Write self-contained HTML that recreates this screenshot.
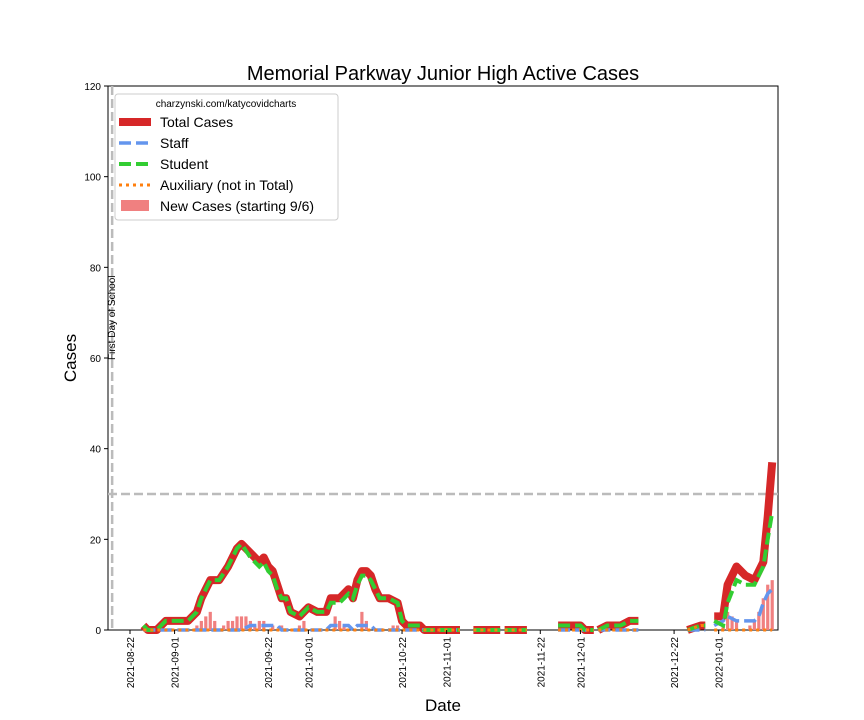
<!DOCTYPE html>
<html><head><meta charset="utf-8"><style>
body{margin:0;background:#fff;font-family:"Liberation Sans",sans-serif}
svg{display:block}
</style></head><body>
<svg id="chart" width="864" height="720" xmlns="http://www.w3.org/2000/svg">
<rect width="864" height="720" fill="#fff"/>
<text x="443" y="80" font-size="20" text-anchor="middle">Memorial Parkway Junior High Active Cases</text>
<text transform="translate(76,358) rotate(-90)" font-size="17" text-anchor="middle">Cases</text>
<text x="443" y="711" font-size="17" text-anchor="middle">Date</text>
<g id="plot"></g>
</svg>
<script>
const dayOffsets=[3,4,6,8,10,13,15,16,18,20,22,24,25,27,29,30,31,32,33,34,35,36,38,40,42,44,45,47,48,49,50,51,52,53,54,55,56,58,60,61,62,65,66,74,null,77,83,null,84,89,null,96,101,102,104,null,105,107,110,112,114,null,125,128,129,null,131,133,134,136,138,140,141,142,143,144];
const totalVals=[1,0,0,2,2,2,4,7,11,11,14,18,19,17,15,16,14,13,10,7,7,4,3,5,4,4,7,7,8,9,7,11,13,13,12,9,7,7,6,2,1,1,0,0,null,0,0,null,0,0,null,1,1,0,0,null,0,1,1,2,2,null,0,1,1,null,3,3,10,14,12,11,13,15,25,37];
const staffVals=[0,0,0,0,0,0,0,0,0,0,0,0,0,1,1,1,1,1,1,0,0,0,0,0,0,0,1,1,1,1,0,1,1,1,1,0,0,0,0,0,0,0,0,0,null,0,0,null,0,0,null,0,0,0,0,null,0,0,0,0,0,null,0,0,0,null,1,2,3,2,2,2,3,6,8,9];
const studentVals=[1,0,0,2,2,2,4,7,11,11,14,18,19,16,14,15,13,12,9,7,7,4,3,5,4,4,6,6,7,8,7,10,12,12,11,9,7,7,6,2,1,1,0,0,null,0,0,null,0,0,null,1,1,0,0,null,0,1,1,2,2,null,0,1,1,null,2,1,6,11,10,10,12,14,20,26];
const auxVals=[0,0,0,0,0,0,0,0,0,0,0,0,0,0,0,0,0,0,0,0,0,0,0,0,0,0,0,0,0,0,0,0,0,0,0,0,0,0,0,0,0,0,0,0,null,0,0,null,0,0,null,0,0,0,0,null,0,0,0,0,0,null,0,1,1,null,0,0,0,0,0,0,0,0,0,0];
const newDays=[15,16,17,18,19,21,22,23,24,25,26,27,28,29,30,32,34,38,39,46,47,48,52,53,59,60,126,133,134,135,136,139,140,141,142,143,144];
const newVals=[1,2,3,4,2,1,2,2,3,3,3,2,1,2,2,1,1,1,2,3,2,1,4,2,1,1,1,1,4,3,2,1,2,4,7,10,11];
const yTicks=[0,20,40,60,80,100,120];
const xTickLabels=["2021-08-22","2021-09-01","2021-09-22","2021-10-01","2021-10-22","2021-11-01","2021-11-22","2021-12-01","2021-12-22","2022-01-01"];
const schoolStartDay=-4, thresholdVal=30;

const L=108,R=778,T=86,B=630, dMin=-4.93, dMax=145.3;
const X=d=>L+(d-dMin)/(dMax-dMin)*(R-L);
const Y=v=>B-v/120*(B-T);
const dayOf=s=>Math.round((Date.parse(s)-Date.parse("2021-08-22"))/864e5);
const NS="http://www.w3.org/2000/svg";
const g=document.getElementById('plot');
function mk(t,a,p){const e=document.createElementNS(NS,t);for(const k in a)e.setAttribute(k,a[k]);(p||g).appendChild(e);return e;}
function pathD(vals){let d="",pen=false;dayOffsets.forEach((x,i)=>{const v=vals[i];if(x===null||v===null){pen=false;return;}d+=(pen?"L":"M")+X(x).toFixed(1)+","+Y(v).toFixed(1);pen=true;});return d;}

let e;
e=mk('rect',{x:L,y:T,width:R-L,height:B-T,fill:'none',stroke:'#000','stroke-width':1});


// bars
newDays.forEach((d,i)=>{const b=mk('rect',{x:X(d)-1.6,y:Y(newVals[i]),width:3.2,height:B-Y(newVals[i]),fill:'#f08080'});

});
// reference lines
e=mk('line',{x1:X(schoolStartDay),x2:X(schoolStartDay),y1:T,y2:B,stroke:'#bbb','stroke-width':2.5,'stroke-dasharray':'9,4'});


e=mk('line',{x1:L,x2:R,y1:Y(thresholdVal),y2:Y(thresholdVal),stroke:'#bbb','stroke-width':2.5,'stroke-dasharray':'9,4'});


e=mk('text',{transform:`translate(${X(schoolStartDay)+3},360) rotate(-90)`,'font-size':10});
e.textContent='First Day of School';


// series
e=mk('path',{d:pathD(totalVals),fill:'none',stroke:'#d62728','stroke-width':8,'stroke-linejoin':'round'});


e=mk('path',{d:pathD(staffVals),fill:'none',stroke:'#6495ed','stroke-width':3.5,'stroke-dasharray':'12,5'});


e=mk('path',{d:pathD(studentVals),fill:'none',stroke:'#32cd32','stroke-width':4,'stroke-dasharray':'12,5'});


e=mk('path',{d:pathD(auxVals),fill:'none',stroke:'#ff7f0e','stroke-width':3,'stroke-dasharray':'3,4'});


// y ticks
yTicks.forEach(v=>{mk('line',{x1:L-4,x2:L,y1:Y(v),y2:Y(v),stroke:'#000'});
const t=mk('text',{x:L-7,y:Y(v)+4,'font-size':10,'text-anchor':'end'});t.textContent=v;

});
// x ticks
xTickLabels.forEach(s=>{const x=X(dayOf(s));mk('line',{x1:x,x2:x,y1:B,y2:B+4,stroke:'#000'});
const t=mk('text',{transform:`translate(${x+4},${B+7}) rotate(-90)`,'font-size':10,'text-anchor':'end'});t.textContent=s;

});
// legend
const lg=mk('g',{});


mk('rect',{x:115,y:94,width:223,height:126,rx:3,fill:'#fff',stroke:'#ccc'},lg);
e=mk('text',{x:226,y:107,'font-size':10,'text-anchor':'middle'},lg);e.textContent='charzynski.com/katycovidcharts';
const items=[['Total Cases','#d62728',8,'none'],['Staff','#6495ed',3.5,'12,5'],['Student','#32cd32',4,'12,5'],['Auxiliary (not in Total)','#ff7f0e',3,'3,4'],['New Cases (starting 9/6)','#f08080',0,'bar']];
items.forEach((it,i)=>{const y=122+i*21;
if(it[3]==='bar')mk('rect',{x:121,y:y-6,width:28,height:11,fill:it[1]},lg);
else mk('line',{x1:119,x2:151,y1:y,y2:y,stroke:it[1],'stroke-width':it[2],'stroke-dasharray':it[3]},lg);
const t=mk('text',{x:160,y:y+5,'font-size':14},lg);t.textContent=it[0];

});
</script>
</body></html>
